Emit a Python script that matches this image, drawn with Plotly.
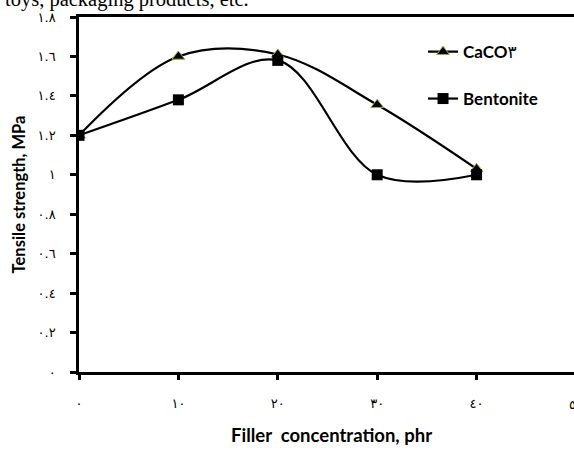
import plotly.graph_objects as go

x_vals = [0, 10, 20, 30, 40]
caco3 = [1.2, 1.6, 1.61, 1.355, 1.03]
bentonite = [1.2, 1.38, 1.58, 1.0, 1.0]

x_tickvals = [0, 10, 20, 30, 40]
x_ticktext = ["٠", "١٠", "٢٠", "٣٠", "٤٠"]
y_tickvals = [0, 0.2, 0.4, 0.6, 0.8, 1.0, 1.2, 1.4, 1.6, 1.8]
y_ticktext = ["٠", "٠.٢", "٠.٤", "٠.٦", "٠.٨", "١", "١.٢", "١.٤", "١.٦", "١.٨"]

fig = go.Figure()
fig.add_trace(go.Scatter(
    x=x_vals, y=caco3, name="<b>CaCO</b><span style=\"font-family:'DejaVu Sans'\">٣</span>",
    mode="lines+markers",
    line=dict(color="black", width=2.2, shape="spline", smoothing=1.0),
    marker=dict(symbol="triangle-up", size=11, color="black",
                line=dict(color="#9aab3c", width=1)),
    legend="legend"))
fig.add_trace(go.Scatter(
    x=x_vals, y=bentonite, name="<b>Bentonite</b>", mode="lines+markers",
    line=dict(color="black", width=2.2, shape="spline", smoothing=1.0),
    marker=dict(symbol="square", size=11, color="black"),
    legend="legend2"))

axis_font = dict(family="DejaVu Sans", size=13, color="black")
title_font = dict(family="Lato", size=16.5, color="black")
leg_font = dict(family="Lato", size=17, color="black")

fig.update_layout(
    width=574, height=450,
    margin=dict(l=79, r=0, t=17, b=78),
    paper_bgcolor="white", plot_bgcolor="white",
    xaxis=dict(range=[0, 49.8], tickvals=x_tickvals, ticktext=x_ticktext,
               showline=True, linecolor="black", linewidth=2.5, mirror=True,
               ticks="outside", ticklen=5, tickwidth=2.5, tickcolor="black",
               showgrid=False, zeroline=False, tickfont=axis_font,
               ticklabelstandoff=13, automargin=False),
    yaxis=dict(range=[0, 1.8], tickvals=y_tickvals, ticktext=y_ticktext,
               showline=True, linecolor="black", linewidth=2.5, mirror=False,
               ticks="outside", ticklen=6, tickwidth=2.5, tickcolor="black",
               showgrid=False, zeroline=False, tickfont=axis_font,
               ticklabelstandoff=12, automargin=False,
               title=dict(text="<b>Tensile strength, MPa</b>", font=title_font, standoff=8)),
    legend=dict(x=0.695, y=0.901, xanchor="left", yanchor="middle",
                bgcolor="rgba(0,0,0,0)", font=leg_font),
    legend2=dict(x=0.695, y=0.769, xanchor="left", yanchor="middle",
                 bgcolor="rgba(0,0,0,0)", font=leg_font),
    showlegend=True,
)

# x-axis title
fig.add_annotation(x=0.511, y=-0.1775, xref="paper", yref="paper", xanchor="center", yanchor="middle",
                   text="<b>Filler&nbsp;&nbsp;concentration, phr</b>", showarrow=False,
                   font=dict(family="Lato", size=18.5, color="black"))
# last x tick label (partially off-page)
fig.add_annotation(x=50 / 49.8, y=0, xref="paper", yref="paper", text="٥٠", showarrow=False,
                   xanchor="center", yanchor="middle", yshift=-32, font=axis_font)
# cropped caption text at the top
fig.add_annotation(x=0, y=1, xref="paper", yref="paper", xanchor="left", yanchor="bottom",
                   text="toys, packaging products, etc.", showarrow=False,
                   xshift=-76, yshift=4,
                   font=dict(family="Liberation Serif", size=20.5, color="black"))

fig.write_html("out.html", post_script="document.body.style.margin='0';",
               config={"displayModeBar": False})
